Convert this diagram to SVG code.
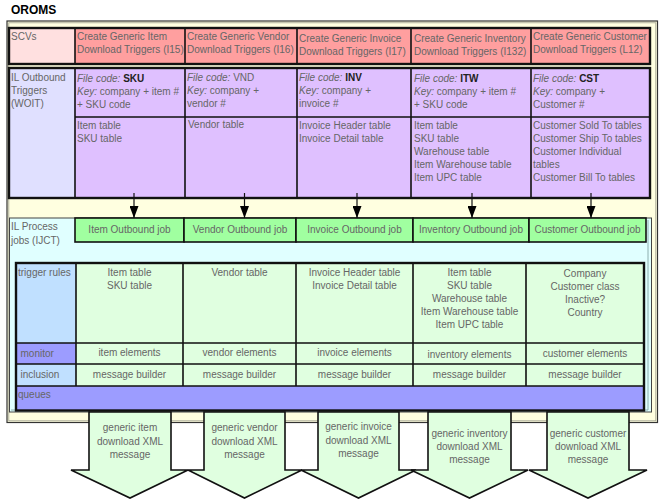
<svg xmlns="http://www.w3.org/2000/svg" width="663" height="504" viewBox="0 0 663 504">
<defs>
<style>
text{font-family:"Liberation Sans",Arial,sans-serif;font-size:10px;fill:#666}
.c{text-anchor:middle}
.b{font-weight:bold;fill:#222}
.i{font-style:italic}
.ttl{font-size:12px;font-weight:bold;fill:#000}
.ln{stroke:#111;stroke-width:1.6;fill:none}
.out{stroke:#111;stroke-width:2.4;fill:none}
.red{fill:#FF9F9F}
.pur{fill:#DFC0FF}
.grn{fill:#A0FFA0;stroke:#111;stroke-width:1.6}
.lg{fill:#E0FFE0}
.lb{fill:#C0E0FF}
.bl{fill:#9C9CFF}
.arr{fill:#E0FFE0;stroke:#111;stroke-width:1.6}
.con{stroke:#111;stroke-width:1.2;fill:none;marker-end:url(#ah)}
</style>
<marker id="ah" markerUnits="userSpaceOnUse" markerWidth="12" markerHeight="9" refX="12" refY="4.5" orient="auto">
<path d="M0,0 L12,4.5 L0,9 z" fill="#000"/>
</marker>
</defs>
<rect width="663" height="504" fill="#fff"/>
<text class="ttl" x="11" y="14">OROMS</text>

<g id="frame">
<rect x="7" y="21" width="650.5" height="401.5" fill="#FFFFE0" stroke="#333" stroke-width="1.2"/>
<rect x="8.8" y="22.8" width="647" height="398" fill="none" stroke="#A0A090" stroke-width="0.8"/>
</g>

<g id="scv-row">
<rect x="9" y="28" width="66" height="36" fill="#FFE0E0"/>
<rect class="red" x="75" y="28" width="575" height="36"/>
<path class="ln" d="M75,28V64M185,28V64M297,28V64M411,28V64M531,28V64"/>
<rect class="out" x="9" y="28" width="641" height="36"/>
<text x="11" y="40">SCVs</text>
</g>
<g id="scv-item"><text x="77" y="40">Create Generic Item</text><text x="77" y="53">Download Triggers (I15)</text></g>
<g id="scv-vendor"><text x="187" y="40">Create Generic Vendor</text><text x="187" y="53">Download Triggers (I16)</text></g>
<g id="scv-invoice"><text x="299" y="41.5">Create Generic Invoice</text><text x="299" y="54.5">Download Triggers (I17)</text></g>
<g id="scv-inventory"><text x="414" y="41.5">Create Generic Inventory</text><text x="414" y="54.5">Download Triggers (I132)</text></g>
<g id="scv-customer"><text x="533" y="40">Create Generic Customer</text><text x="533" y="53">Download Triggers (L12)</text></g>

<g id="woit-row">
<rect x="9" y="68" width="66" height="130" fill="#E0E0FF"/>
<rect class="pur" x="75" y="68" width="575" height="130"/>
<path class="ln" d="M75,68V198M185,68V198M297,68V198M411,68V198M531,68V198M75,117H650"/>
<rect class="out" x="9" y="68" width="641" height="130"/>
<text x="11" y="81">IL Outbound</text><text x="11" y="94">Triggers</text><text x="11" y="107">(WOIT)</text>
</g>
<g id="woit-item">
<text x="77" y="82"><tspan class="i">File code:</tspan> <tspan class="b">SKU</tspan></text>
<text x="77" y="95"><tspan class="i">Key:</tspan> company + item #</text>
<text x="77" y="108">+ SKU code</text>
<text x="77" y="129">Item table</text><text x="77" y="142">SKU table</text>
</g>
<g id="woit-vendor">
<text x="187" y="81"><tspan class="i">File code:</tspan> VND</text>
<text x="187" y="94"><tspan class="i">Key:</tspan> company +</text>
<text x="187" y="107">vendor #</text>
<text x="188" y="128">Vendor table</text>
</g>
<g id="woit-invoice">
<text x="299" y="81"><tspan class="i">File code:</tspan> <tspan class="b">INV</tspan></text>
<text x="299" y="94"><tspan class="i">Key:</tspan> company +</text>
<text x="299" y="107">invoice #</text>
<text x="299" y="129">Invoice Header table</text><text x="299" y="142">Invoice Detail table</text>
</g>
<g id="woit-inventory">
<text x="414" y="82"><tspan class="i">File code:</tspan> <tspan class="b">ITW</tspan></text>
<text x="414" y="95"><tspan class="i">Key:</tspan> company + item #</text>
<text x="414" y="108">+ SKU code</text>
<text x="414" y="129">Item table</text><text x="414" y="142">SKU table</text><text x="414" y="155">Warehouse table</text><text x="414" y="168">Item Warehouse table</text><text x="414" y="181">Item UPC table</text>
</g>
<g id="woit-customer">
<text x="533" y="82"><tspan class="i">File code:</tspan> <tspan class="b">CST</tspan></text>
<text x="533" y="95"><tspan class="i">Key:</tspan> company +</text>
<text x="533" y="108">Customer #</text>
<text x="533" y="129">Customer Sold To tables</text><text x="533" y="142">Customer Ship To tables</text><text x="533" y="155">Customer Individual</text><text x="533" y="168">tables</text><text x="533" y="181">Customer Bill To tables</text>
</g>

<g id="ijct">
<rect x="9.5" y="218" width="642" height="194" fill="#E0FFFF" stroke="#444" stroke-width="1"/>
<path d="M648,220V410H11" fill="none" stroke="#7A9A9A" stroke-width="0.8"/>
<text x="11" y="230">IL Process</text><text x="11" y="243.5">jobs (IJCT)</text>
</g>

<g id="job-item"><rect class="grn" x="75" y="218" width="109" height="24"/><text class="c" x="129.5" y="233">Item Outbound job</text></g>
<g id="job-vendor"><rect class="grn" x="184" y="218" width="112" height="24"/><text class="c" x="240" y="233">Vendor Outbound job</text></g>
<g id="job-invoice"><rect class="grn" x="296" y="218" width="117" height="24"/><text class="c" x="354.5" y="233">Invoice Outbound job</text></g>
<g id="job-inventory"><rect class="grn" x="413" y="218" width="116" height="24"/><text class="c" x="471" y="233">Inventory Outbound job</text></g>
<g id="job-customer"><rect class="grn" x="529" y="218" width="117" height="24"/><text class="c" x="587.5" y="233">Customer Outbound job</text></g>

<g id="connectors">
<line class="con" x1="134" y1="193" x2="134" y2="218"/>
<line class="con" x1="244.5" y1="193" x2="244.5" y2="218"/>
<line class="con" x1="357" y1="193" x2="357" y2="218"/>
<line class="con" x1="472" y1="193" x2="472" y2="218"/>
<line class="con" x1="591" y1="193" x2="591" y2="218"/>
</g>

<g id="process-table">
<rect class="lb" x="16" y="263" width="60" height="80"/>
<rect class="bl" x="16" y="343" width="60" height="21"/>
<rect class="lb" x="16" y="364" width="60" height="22"/>
<rect class="lg" x="76" y="263" width="568" height="123"/>
<rect class="bl" x="16" y="386" width="628" height="24.5"/>
<path class="ln" d="M76,263V386M183,263V386M296,263V386M413,263V386M526,263V386M16,343H644M16,364H644M16,386H644"/>
<rect class="out" x="16" y="263" width="628" height="147.5"/>
<text x="18" y="276">trigger rules</text>
<text x="20.5" y="357">monitor</text>
<text x="20.5" y="378">inclusion</text>
<text x="18" y="398">queues</text>
</g>
<g id="rules-item"><text class="c" x="129.5" y="276">Item table</text><text class="c" x="129.5" y="289">SKU table</text><text class="c" x="129.5" y="356">item elements</text><text class="c" x="129.5" y="378">message builder</text></g>
<g id="rules-vendor"><text class="c" x="239.5" y="276">Vendor table</text><text class="c" x="239.5" y="356">vendor elements</text><text class="c" x="239.5" y="378">message builder</text></g>
<g id="rules-invoice"><text class="c" x="354.5" y="276">Invoice Header table</text><text class="c" x="354.5" y="289">Invoice Detail table</text><text class="c" x="354.5" y="356">invoice elements</text><text class="c" x="354.5" y="378">message builder</text></g>
<g id="rules-inventory"><text class="c" x="469.5" y="276">Item table</text><text class="c" x="469.5" y="289">SKU table</text><text class="c" x="469.5" y="302">Warehouse table</text><text class="c" x="469.5" y="315">Item Warehouse table</text><text class="c" x="469.5" y="328">Item UPC table</text><text class="c" x="469.5" y="358">inventory elements</text><text class="c" x="469.5" y="378">message builder</text></g>
<g id="rules-customer"><text class="c" x="585" y="276.5">Company</text><text class="c" x="585" y="289.5">Customer class</text><text class="c" x="585" y="302.5">Inactive?</text><text class="c" x="585" y="315.5">Country</text><text class="c" x="585" y="356.5">customer elements</text><text class="c" x="585" y="378">message builder</text></g>

<g id="out-item"><path class="arr" d="M89,412H171V470H188L130,498L71,470H89Z"/><text class="c" x="130" y="431">generic item</text><text class="c" x="130" y="444.5">download XML</text><text class="c" x="130" y="458">message</text></g>
<g id="out-vendor"><path class="arr" d="M204,412H285V470H302L244.5,498L188,470H204Z"/><text class="c" x="244.5" y="431">generic vendor</text><text class="c" x="244.5" y="444.5">download XML</text><text class="c" x="244.5" y="458">message</text></g>
<g id="out-invoice"><path class="arr" d="M318,412H399V470H416L358.5,498L301,470H318Z"/><text class="c" x="358.5" y="430">generic invoice</text><text class="c" x="358.5" y="443.5">download XML</text><text class="c" x="358.5" y="457">message</text></g>
<g id="out-inventory"><path class="arr" d="M428,412H511V470H528L469.5,498L411,470H428Z"/><text class="c" x="469.5" y="437">generic inventory</text><text class="c" x="469.5" y="450">download XML</text><text class="c" x="469.5" y="463">message</text></g>
<g id="out-customer"><path class="arr" d="M547,412H629V470H647L588,498L529,470H547Z"/><text class="c" x="588" y="437">generic customer</text><text class="c" x="588" y="450">download XML</text><text class="c" x="588" y="463">message</text></g>
</svg>
